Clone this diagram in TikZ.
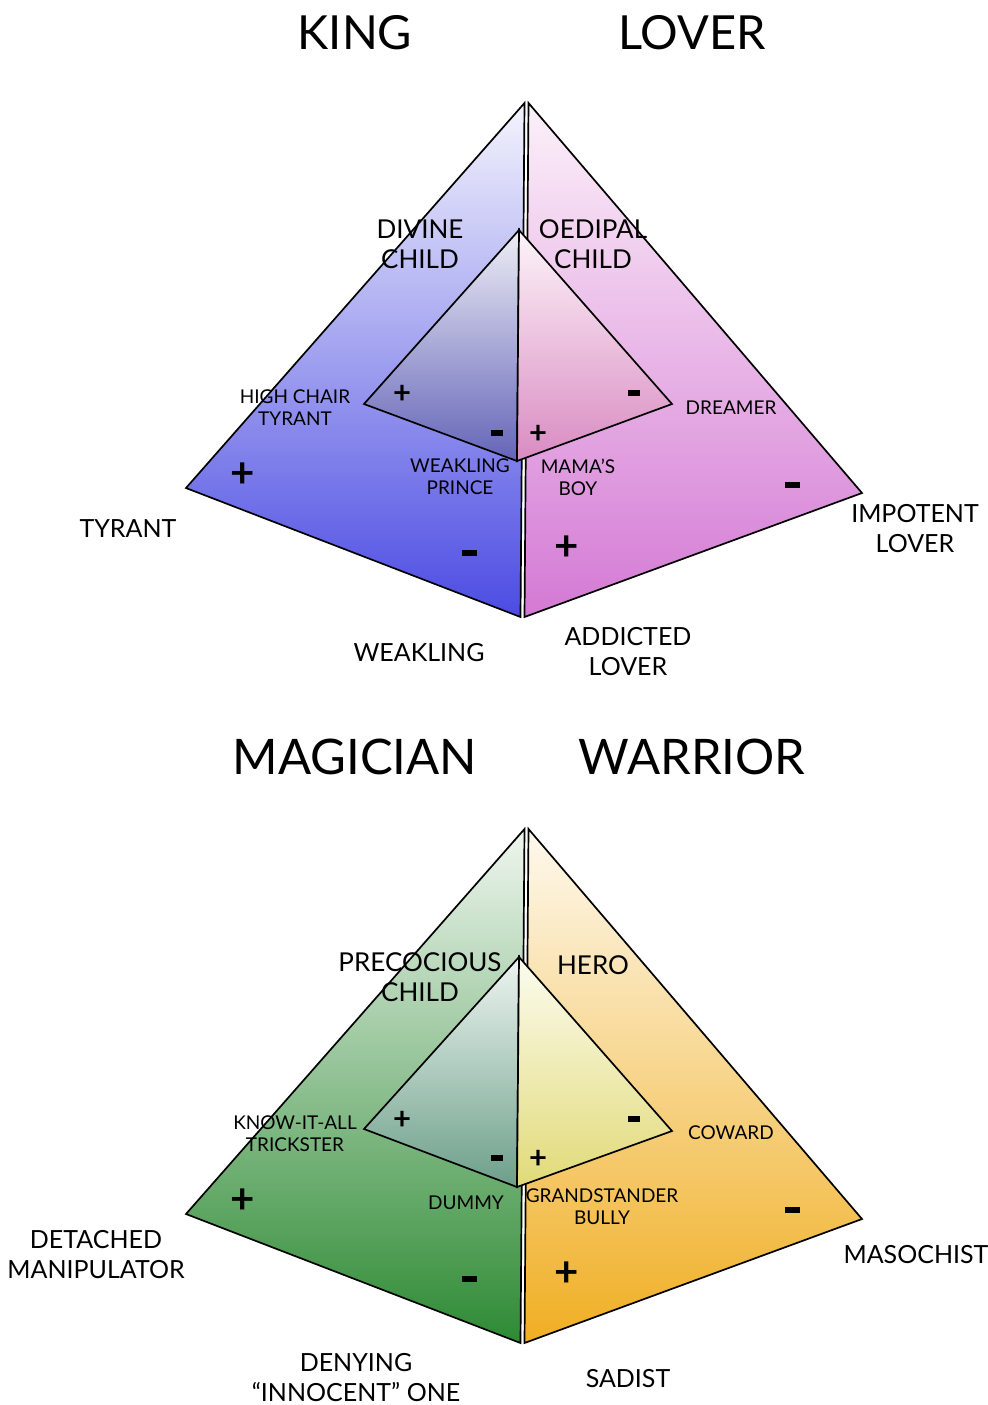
\documentclass[tikz,border=0pt]{standalone}
\usepackage{fontspec}
\setmainfont{Lato}
\usetikzlibrary{positioning}
\definecolor{kingtop}{HTML}{F4F4FD}
\definecolor{kingbot}{HTML}{4B4BE3}
\definecolor{lovertop}{HTML}{FCF1F9}
\definecolor{loverbot}{HTML}{D479D4}
\definecolor{kingin}{HTML}{6464B8}
\definecolor{kingintop}{HTML}{EEEEF6}
\definecolor{loverin}{HTML}{D98BC2}
\definecolor{loverintop}{HTML}{FDF4F9}
\definecolor{magtop}{HTML}{EFF6EF}
\definecolor{magbot}{HTML}{2D8A33}
\definecolor{wartop}{HTML}{FEF9EE}
\definecolor{warbot}{HTML}{F0AE22}
\definecolor{magin}{HTML}{6C9F89}
\definecolor{magintop}{HTML}{EEF5F1}
\definecolor{warin}{HTML}{E1DA78}
\definecolor{warintop}{HTML}{FCFCEF}

\tikzset{
  side/.style={draw=black,line width=0.85pt,line join=miter},
  title/.style={font=\fontsize{23.5}{26}\selectfont},
  shadow/.style={font=\fontsize{12.5}{15}\selectfont,align=center},
  facelbl/.style={font=\fontsize{13}{15}\selectfont,align=center},
  minorlbl/.style={font=\fontsize{9.5}{11}\selectfont,align=center},
  bigsign/.style={font=\bfseries\fontsize{21}{21}\selectfont},
  smallsign/.style={font=\bfseries\fontsize{15.5}{15}\selectfont},
  bigbar/.style={inner sep=0pt},
  smallbar/.style={inner sep=0pt}
}
\newcommand{\bigminus}{\rule{7.5pt}{3.4pt}}
\newcommand{\smallminus}{\rule{6pt}{3pt}}

\begin{document}
\begin{tikzpicture}[x=0.5pt,y=-0.5pt]
\useasboundingbox (0,0) rectangle (988,1405);
% titles
\node[title] (king) at (355,33) {KING};
\node[title] (lover) at (692,33) {LOVER};
\node[title,font=\fontsize{24.5}{27}\selectfont] (magician) at (355,757) {MAGICIAN};
\node[title,font=\fontsize{24.5}{27}\selectfont] (warrior) at (692,757) {WARRIOR};

% king / lover pyramid
\shadedraw[side,top color=kingtop,bottom color=kingbot] (524.5,103) -- (186,488) -- (520.5,617) -- cycle;
\shadedraw[side,top color=lovertop,bottom color=loverbot] (528.5,103) -- (862,493) -- (524.5,617) -- cycle;
\shadedraw[side,top color=kingintop,bottom color=kingin] (519,230) -- (364,404) -- (517,461) -- cycle;
\shadedraw[side,top color=loverintop,bottom color=loverin] (519,230) -- (672,404) -- (517,461) -- cycle;
% shadow selves
\node[shadow] (tyrant) at (128,529) {TYRANT};
\node[shadow] (weakling) at (419,653) {WEAKLING};
\node[shadow] (addicted) at (628,652) {ADDICTED\\LOVER};
\node[shadow] (impotent) at (915,529) {IMPOTENT\\LOVER};
% immature selves
\node[facelbl] (divine) at (420,244) {DIVINE\\CHILD};
\node[facelbl] (oedipal) at (593,244) {OEDIPAL\\CHILD};
\node[minorlbl] (highchair) at (295,408) {HIGH CHAIR\\TYRANT};
\node[minorlbl] (dreamer) at (731,408) {DREAMER};
\node[minorlbl] (weakprince) at (460,477) {WEAKLING\\PRINCE};
\node[minorlbl] (mamasboy) at (578,477) {MAMA'S\\BOY};
% poles
\node[bigsign] (kp) at (243,475) {+};
\node[bigbar] (km) at (469,553) {\bigminus};
\node[bigsign] (lp) at (567,548) {+};
\node[bigbar] (lm) at (792,485) {\bigminus};
\node[smallsign] (kip) at (402,394) {+};
\node[smallbar] (kim) at (497,433) {\smallminus};
\node[smallsign] (lip) at (538,434) {+};
\node[smallbar] (lim) at (634,393) {\smallminus};

% magician / warrior pyramid
\shadedraw[side,top color=magtop,bottom color=magbot] (524.5,829) -- (186,1214) -- (520.5,1343) -- cycle;
\shadedraw[side,top color=wartop,bottom color=warbot] (528.5,829) -- (862,1219) -- (524.5,1343) -- cycle;
\shadedraw[side,top color=magintop,bottom color=magin] (519,957) -- (364,1129) -- (517,1187) -- cycle;
\shadedraw[side,top color=warintop,bottom color=warin] (519,957) -- (672,1131) -- (517,1187) -- cycle;
% shadow selves
\node[shadow] (detached) at (96,1255) {DETACHED\\MANIPULATOR};
\node[shadow] (denying) at (356,1378) {DENYING\\``INNOCENT'' ONE};
\node[shadow] (sadist) at (628,1379) {SADIST};
\node[shadow] (masochist) at (916,1255) {MASOCHIST};
% immature selves
\node[facelbl] (precocious) at (420,977) {PRECOCIOUS\\CHILD};
\node[facelbl] (hero) at (593,965) {HERO};
\node[minorlbl] (knowitall) at (295,1134) {KNOW-IT-ALL\\TRICKSTER};
\node[minorlbl] (coward) at (731,1133) {COWARD};
\node[minorlbl] (dummy) at (466,1203) {DUMMY};
\node[minorlbl] (grandstander) at (602,1207) {GRANDSTANDER\\BULLY};
% poles
\node[bigsign] (mp) at (243,1201) {+};
\node[bigbar] (mm) at (469,1279) {\bigminus};
\node[bigsign] (wp) at (567,1274) {+};
\node[bigbar] (wm) at (792,1210) {\bigminus};
\node[smallsign] (mip) at (402,1120) {+};
\node[smallbar] (mim) at (497,1158) {\smallminus};
\node[smallsign] (wip) at (538,1159) {+};
\node[smallbar] (wim) at (634,1119) {\smallminus};
\end{tikzpicture}
\end{document}
